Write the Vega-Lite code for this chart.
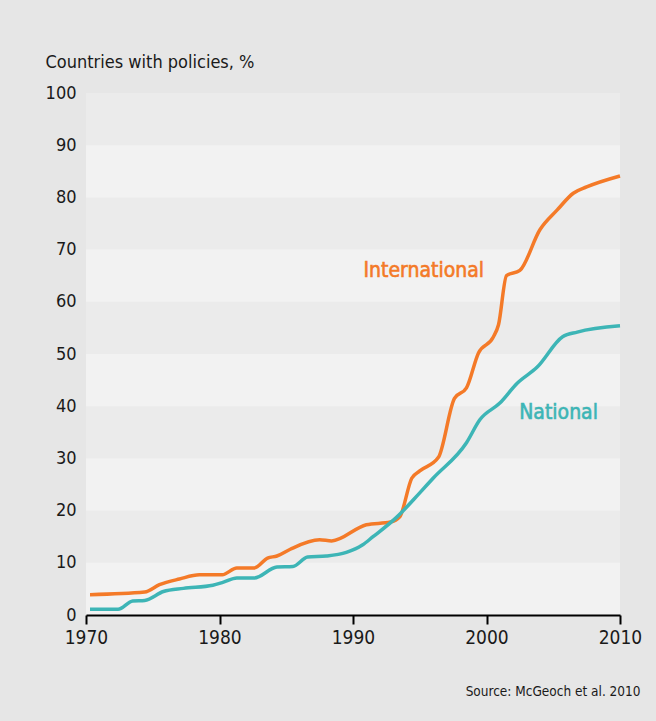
{
  "$schema": "https://vega.github.io/schema/vega-lite/v6.json",
  "width": 534,
  "height": 522,
  "autosize": "none",
  "padding": {"left": 86, "top": 93, "right": 36, "bottom": 106},
  "background": "#e6e6e6",
  "config": {
    "view": {"fill": "#f2f2f2", "stroke": null},
    "font": "DejaVu Sans Condensed, Open Sans, sans-serif",
    "axis": {"grid": false, "labelFont": "DejaVu Sans Condensed, Open Sans, sans-serif", "titleFont": "DejaVu Sans Condensed, Open Sans, sans-serif", "labelColor": "#1a1a1a", "titleColor": "#1a1a1a"}
  },
  "datasets": {
    "bands": [
      {"lo": 10, "hi": 20}, {"lo": 30, "hi": 40}, {"lo": 50, "hi": 60}, {"lo": 70, "hi": 80}, {"lo": 90, "hi": 100}
    ],
    "series": [
      {"series": "International", "year": 1970.3, "value": 3.9},
      {"series": "International", "year": 1974.4, "value": 4.4},
      {"series": "International", "year": 1975.5, "value": 5.8},
      {"series": "International", "year": 1977.0, "value": 6.9},
      {"series": "International", "year": 1978.5, "value": 7.7},
      {"series": "International", "year": 1980.2, "value": 7.7},
      {"series": "International", "year": 1981.3, "value": 9.0},
      {"series": "International", "year": 1982.6, "value": 9.0},
      {"series": "International", "year": 1983.6, "value": 10.9},
      {"series": "International", "year": 1984.3, "value": 11.3},
      {"series": "International", "year": 1985.3, "value": 12.6},
      {"series": "International", "year": 1987.5, "value": 14.4},
      {"series": "International", "year": 1988.4, "value": 14.2},
      {"series": "International", "year": 1991.0, "value": 17.3},
      {"series": "International", "year": 1992.8, "value": 17.8},
      {"series": "International", "year": 1993.5, "value": 18.8},
      {"series": "International", "year": 1994.4, "value": 26.2},
      {"series": "International", "year": 1995.0, "value": 27.6},
      {"series": "International", "year": 1996.4, "value": 30.2},
      {"series": "International", "year": 1997.6, "value": 41.5},
      {"series": "International", "year": 1998.5, "value": 43.5},
      {"series": "International", "year": 1999.4, "value": 50.2},
      {"series": "International", "year": 2000.5, "value": 53.2},
      {"series": "International", "year": 2000.9, "value": 55.6},
      {"series": "International", "year": 2001.5, "value": 65.0},
      {"series": "International", "year": 2002.5, "value": 66.0},
      {"series": "International", "year": 2004.0, "value": 73.8},
      {"series": "International", "year": 2005.3, "value": 77.6},
      {"series": "International", "year": 2006.5, "value": 80.8},
      {"series": "International", "year": 2007.5, "value": 82.0},
      {"series": "International", "year": 2010.0, "value": 84.1},
      {"series": "National", "year": 1970.3, "value": 1.1},
      {"series": "National", "year": 1972.4, "value": 1.1},
      {"series": "National", "year": 1973.5, "value": 2.7},
      {"series": "National", "year": 1974.4, "value": 2.8},
      {"series": "National", "year": 1975.8, "value": 4.5},
      {"series": "National", "year": 1977.3, "value": 5.1},
      {"series": "National", "year": 1979.5, "value": 5.7},
      {"series": "National", "year": 1980.3, "value": 6.3},
      {"series": "National", "year": 1981.3, "value": 7.1},
      {"series": "National", "year": 1982.6, "value": 7.1},
      {"series": "National", "year": 1984.3, "value": 9.2},
      {"series": "National", "year": 1985.5, "value": 9.3},
      {"series": "National", "year": 1986.6, "value": 11.1},
      {"series": "National", "year": 1988.0, "value": 11.3},
      {"series": "National", "year": 1989.5, "value": 12.0},
      {"series": "National", "year": 1990.7, "value": 13.4},
      {"series": "National", "year": 1991.5, "value": 15.0},
      {"series": "National", "year": 1993.3, "value": 18.8},
      {"series": "National", "year": 1995.0, "value": 23.4},
      {"series": "National", "year": 1996.0, "value": 26.2},
      {"series": "National", "year": 1998.5, "value": 33.0},
      {"series": "National", "year": 1999.5, "value": 37.4},
      {"series": "National", "year": 2001.0, "value": 40.6},
      {"series": "National", "year": 2002.3, "value": 44.4},
      {"series": "National", "year": 2003.8, "value": 47.5},
      {"series": "National", "year": 2005.7, "value": 53.3},
      {"series": "National", "year": 2006.8, "value": 54.2},
      {"series": "National", "year": 2010.0, "value": 55.4}
    ],
    "labels": [
      {"series": "International", "year": 1995.3, "value": 65.9},
      {"series": "National", "year": 2005.4, "value": 38.7}
    ]
  },
  "layer": [
    {
      "data": {"name": "bands"},
      "mark": {"type": "rect", "color": "#ebebeb"},
      "encoding": {
        "y": {"field": "lo", "type": "quantitative", "scale": {"domain": [0, 100]}},
        "y2": {"field": "hi"}
      }
    },
    {
      "data": {"name": "series"},
      "mark": {"type": "line", "strokeWidth": 3.5, "interpolate": "monotone", "strokeCap": "butt"},
      "encoding": {
        "x": {"field": "year", "type": "quantitative", "scale": {"domain": [1970, 2010], "nice": false},
          "axis": {"values": [1970, 1980, 1990, 2000, 2010], "format": "d", "domainColor": "#000000", "domainWidth": 2, "tickColor": "#000000", "tickWidth": 2, "tickSize": 9, "labelFontSize": 19, "labelPadding": 4, "labelFlush": false,
            "title": "Source: McGeoch et al. 2010", "titleFontSize": 13.5, "titleFontWeight": "normal", "titleAnchor": "end", "titleAlign": "right", "titleX": 554, "titleY": 80, "titleBaseline": "alphabetic"}},
        "y": {"field": "value", "type": "quantitative", "scale": {"domain": [0, 100], "nice": false},
          "axis": {"values": [0, 10, 20, 30, 40, 50, 60, 70, 80, 90, 100], "domain": false, "ticks": false, "labelFontSize": 18, "labelPadding": 10, "labelBaseline": "middle",
            "title": "Countries with policies, %", "titleFontSize": 18, "titleFontWeight": "normal", "titleAngle": 0, "titleAlign": "left", "titleBaseline": "alphabetic", "titleX": -41, "titleY": -26}},
        "color": {"field": "series", "type": "nominal", "scale": {"domain": ["International", "National"], "range": ["#f47a28", "#3db5b6"]}, "legend": null}
      }
    },
    {
      "data": {"name": "labels"},
      "mark": {"type": "text", "fontSize": 21, "fontWeight": "normal", "align": "center", "baseline": "middle", "strokeWidth": 0.6},
      "encoding": {
        "x": {"field": "year", "type": "quantitative"},
        "y": {"field": "value", "type": "quantitative"},
        "text": {"field": "series"},
        "color": {"field": "series", "type": "nominal", "legend": null},
        "stroke": {"field": "series", "type": "nominal", "scale": {"domain": ["International", "National"], "range": ["#f47a28", "#3db5b6"]}, "legend": null}
      }
    }
  ]
}
